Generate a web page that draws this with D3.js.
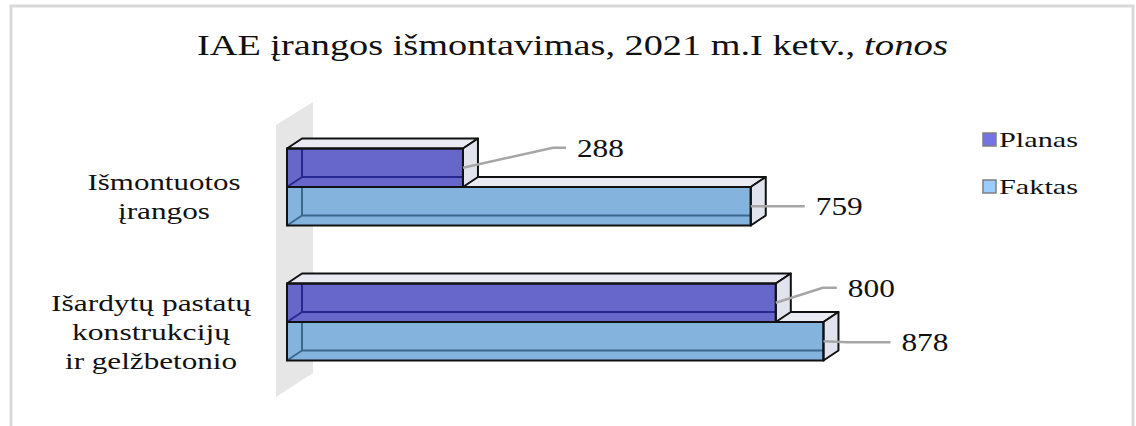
<!DOCTYPE html>
<html><head><meta charset="utf-8"><script src="https://cdn.jsdelivr.net/npm/d3@7"></script></head>
<body style="margin:0">
<script>
// data
const categories = ["Išmontuotos įrangos", "Išardytų pastatų konstrukcijų ir gelžbetonio"];
const categoryLines = [["Išmontuotos", "įrangos"], ["Išardytų pastatų", "konstrukcijų", "ir gelžbetonio"]];
const series = ["Planas", "Faktas"];
const planas = [288, 800];
const faktas = [759, 878];
const values = { Planas: planas, Faktas: faktas };

const W = 1136, H = 426;
const depth = { dx: 15, dy: 10 };
const colors = { Planas: "#6767cb", Faktas: "#84b3de" };
const edges = { Planas: "#1c1c86", Faktas: "#2f5a80" };
const swatch = { Planas: "#7373e3", Faktas: "#99ccff" };

const svg = d3.select("body").append("svg")
  .attr("width", W).attr("height", H)
  .style("font-family", `"Liberation Serif"`);

/*serif text stretched to the width it has in the reference*/
function label(parent, str, size, x, y, width, anchor) {
  const t = parent.append("text")
    .attr("x", anchor === "middle" ? x - width / 2 : x)
    .attr("y", y)
    .attr("font-size", size)
    .style("font-family", `"Liberation Serif"`)
    .text(str);
  t.attr("fill", "#111")
    .attr("textLength", width)
    .attr("lengthAdjust", "spacingAndGlyphs");
  return t;
}

// outer frame
svg.append("rect")
  .attr("x", 11).attr("y", 6)
  .attr("width", 1122).attr("height", 440)
  .attr("fill", "none").attr("stroke", "#d9d9d9").attr("stroke-width", 3);

// title
label(svg, "IAE įrangos išmontavimas, 2021 m.I ketv.,", 30, 197, 55, 658);
label(svg, "tonos", 30, 864, 55, 84).style("font-style", "italic");

const x = d3.scaleLinear().domain([0, 1000]).range([287, 898]);
const y = d3.scaleBand().domain(categories).range([119.5, 389.5]);
const ySub = d3.scaleBand().domain(series).range([0, y.bandwidth()]).paddingOuter(0.753);

// side wall behind the bars
const x0 = x(0);
svg.append("path")
  .attr("d", `M${x0 - 11},125 L${x0 + 26},102 L${x0 + 26},373 L${x0 - 11},397 Z`)
  .attr("fill", "#e6e6e6");

const bars = svg.append("g");

function drawBox(s, v, cat) {
  const xa = x(0), xb = x(v);
  const yT = y(cat) + ySub(s), yB = yT + ySub.bandwidth();
  const { dx, dy } = depth;
  const g = bars.append("g");
  g.append("rect")
    .attr("x", xa).attr("y", yT)
    .attr("width", xb - xa).attr("height", yB - yT)
    .attr("fill", colors[s]);
  // back edges seen through the front face
  g.append("path")
    .attr("d", `M${xa + dx},${yT - dy} V${yB - dy} H${xb + dx} M${xa},${yB} L${xa + dx},${yB - dy}`)
    .attr("fill", "none").attr("stroke", edges[s]).attr("stroke-width", 2).attr("opacity", 0.85);
  g.append("path")
    .attr("d", `M${xa},${yT} L${xa + dx},${yT - dy} H${xb + dx} L${xb},${yT} Z`)
    .attr("fill", "#e9eaf2").attr("stroke", "#111").attr("stroke-width", 2)
    .attr("stroke-linejoin", "round");
  g.append("path")
    .attr("d", `M${xb},${yT} L${xb + dx},${yT - dy} V${yB - dy} L${xb},${yB} Z`)
    .attr("fill", "#e2e4ed").attr("stroke", "#111").attr("stroke-width", 2)
    .attr("stroke-linejoin", "round");
  g.append("rect")
    .attr("x", xa).attr("y", yT)
    .attr("width", xb - xa).attr("height", yB - yT)
    .attr("fill", "none").attr("stroke", "#111").attr("stroke-width", 2);
}

categories.forEach((cat, i) => {
  drawBox("Faktas", faktas[i], cat);
  drawBox("Planas", planas[i], cat);
});

/*leader lines: elbow offset from the bar end, then a short horizontal run*/
const leaders = {
  Planas: [[90, -20, 13], [47, -15, 14]],
  Faktas: [[27, 0, 27], [24, 1, 43]]
};

const labels = svg.append("g");
series.forEach(s => {
  categories.forEach((cat, i) => {
    const v = values[s][i];
    const sx = x(v), sy = y(cat) + ySub(s) + ySub.bandwidth() / 2;
    const [ex, ey, run] = leaders[s][i];
    const endX = sx + ex + run, endY = sy + ey;
    labels.append("path")
      .attr("d", `M${sx},${sy} L${sx + ex},${endY} H${endX}`)
      .attr("fill", "none").attr("stroke", "#a6a6a6").attr("stroke-width", 2.5);
    label(labels, String(v), 25, endX + 11, endY + 9, 47);
  });
});

// category labels
const catX = [164, 151];
const catW = [[153, 92], [200, 158, 172]];
categories.forEach((cat, i) => {
  const lines = categoryLines[i];
  const cy = y(cat) + y.bandwidth() / 2;
  lines.forEach((ln, j) => {
    label(svg, ln, 24, catX[i], cy - (lines.length - 1) * 29 / 2 + j * 29 + 17.5, catW[i][j], "middle");
  });
});

// legend
const legend = svg.append("g");
series.forEach((s, i) => {
  const ly = 133 + i * 47;
  legend.append("rect")
    .attr("x", 983).attr("y", ly)
    .attr("width", 13).attr("height", 13)
    .attr("fill", swatch[s]).attr("stroke", "#7f7f7f").attr("stroke-width", 1.5);
  label(legend, s, 21, 999, ly + 14, 79);
});
</script>
</body>
</html>
